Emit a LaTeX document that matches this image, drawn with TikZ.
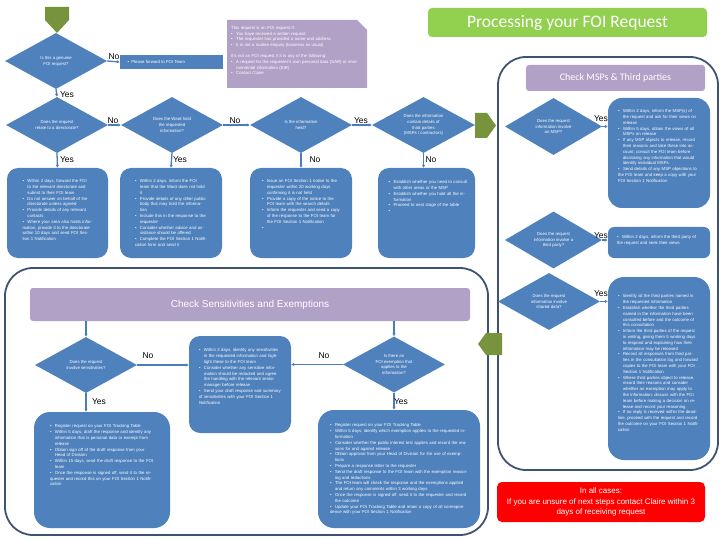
\documentclass[tikz,border=0pt]{standalone}
\usepackage{fontspec}
\setmainfont{Liberation Sans}
\newfontfamily\calibfont{Carlito}
\usetikzlibrary{shapes.geometric,arrows.meta}
\definecolor{boxblue}{HTML}{4F81BD}
\definecolor{linkblue}{HTML}{4A7EBB}
\definecolor{lav}{HTML}{B2A1C7}
\definecolor{olivegreen}{HTML}{77933C}
\definecolor{limegreen}{HTML}{92D050}
\definecolor{framecol}{HTML}{3E5372}
\newcommand\bpt{\par\noindent\hangindent=5pt\hangafter=1\makebox[5pt][l]{\textbullet}}
\newcommand\boxfont{\fontsize{4.3}{5.8}\selectfont}
\tikzset{
  dec/.style={diamond, shape aspect=1.8, fill=boxblue, draw=none, minimum width=102pt, minimum height=56pt, inner sep=0pt, text=white, font=\boxfont, align=center},
  bluebox/.style={fill=boxblue, rounded corners=11pt, draw=none, inner sep=0pt},
  btext/.style={text=white, font=\boxfont, align=left, anchor=north, inner sep=0pt},
  link/.style={draw=linkblue, line width=1.3pt, -{Latex[length=3pt,width=3.5pt]}},
  lab/.style={font=\fontsize{8.5}{10}\selectfont, text=black, inner sep=0pt},
  hdr/.style={fill=lav, rounded corners=3pt, text=white, inner sep=0pt},
  bigframe/.style={draw=framecol, line width=1.8pt, rounded corners=28pt},
  pent/.style={fill=olivegreen, draw=none},
}
\begin{document}
\begin{tikzpicture}[x=1pt,y=-1pt]
\useasboundingbox (0,0) rectangle (720,540);
% frames
\draw[bigframe] (498,57) rectangle (718,470);
\draw[bigframe] (5,268) rectangle (488,535);
% title
\node[hdr, rounded corners=4pt, fill=limegreen, minimum width=279pt, minimum height=29pt, font=\calibfont\fontsize{17.5}{19}\selectfont] (T) at (567.5,22.5) {Processing your FOI Request};
% note
\fill[lav] (227,20) -- (357,20) -- (367,30) -- (367,88) -- (227,88) -- cycle;
\node[btext, anchor=north west, text width=130pt] (N) at (231,26) {\noindent This request is an FOI request if:
\bpt You have received a written request
\bpt The requester has provided a name and address
\bpt It is not a routine enquiry (business as usual)
\par\vspace{5pt}\noindent It's not an FOI request if it is any of the following:
\bpt A request for the requester's own personal data (SAR) or environmental information (EIR)
\bpt Contact Claire};
% start pentagon
\fill[pent] (45,7) -- (69,7) -- (69,20) -- (57,33) -- (45,20) -- cycle;
% first row
\node[dec] (d1) at (56,61) {Is this a genuine\\FOI request?};
\node[fill=boxblue, minimum width=103pt, minimum height=14pt, inner sep=0pt] (F0) at (171.5,62) {};
\node[text=white, font=\boxfont, anchor=west] (F0t) at (124,62) {\textbullet\ \ Please forward to FOI Team};
\node[dec] (d2) at (57,125) {Does the request\\relate to a directorate?};
\node[dec] (d3) at (172,125) {Does the Ward hold\\the requested\\information?};
\node[dec] (d4) at (301,125) {Is the information\\held?};
\node[dec, minimum width=103pt] (d5) at (423.5,125) {Does the information\\contain details of\\third parties\\(MSPs / contractors)};
\fill[pent] (475,113) -- (487,113) -- (496,125.5) -- (487,138) -- (475,138) -- cycle;
% second row boxes
\node[bluebox, minimum width=101pt, minimum height=90pt] (A) at (57.5,213) {};
\node[btext, text width=70pt] (At) at ([yshift=-9pt]A.north) {\bpt Within 2 days, forward the FOI to the relevant directorate and submit to their FOI team
\bpt Do not answer on behalf of the directorate unless agreed
\bpt Provide details of any relevant contacts
\bpt Where your area also holds information, provide it to the directorate within 10 days and send FOI Section 1 Notification};
\node[bluebox, minimum width=102pt, minimum height=90pt] (B) at (171,213) {};
\node[btext, text width=72pt] (Bt) at ([yshift=-9pt]B.north) {\bpt Within 2 days, inform the FOI team that the Ward does not hold it
\bpt Provide details of any other public body that may hold the information
\bpt Include this in the response to the requester
\bpt Consider whether advice and assistance should be offered
\bpt Complete the FOI Section 1 Notification form and send it};
\node[bluebox, minimum width=102pt, minimum height=90pt] (C) at (301,213) {};
\node[btext, text width=78pt] (Ct) at ([yshift=-9pt]C.north) {\bpt Issue an FOI Section 1 notice to the requester within 20 working days confirming it is not held
\bpt Provide a copy of the notice to the FOI team with the search details
\bpt Inform the requester and send a copy of the response to the FOI team for the FOI Section 1 Notification
\bpt};
\node[bluebox, minimum width=97pt, minimum height=90pt] (D) at (426.5,213) {};
\node[btext, text width=80pt] (Dt) at ([xshift=2pt,yshift=-10pt]D.north) {\bpt Establish whether you need to consult with other areas or the MSP
\bpt Establish whether you hold all the information
\bpt Proceed to next stage of the table
\bpt};
% MSP column
\node[hdr, minimum width=179pt, minimum height=26pt, font=\calibfont\fontsize{10}{12}\selectfont] (M) at (615.5,78) {Check MSPs \& Third parties};
\node[dec, minimum width=97pt, minimum height=57pt] (d6) at (553.5,126.5) {Does the request\\information involve\\an MSP?};
\node[dec, minimum width=97pt, minimum height=57pt] (d7) at (553.5,240) {Does the request\\information involve a\\third party?};
\node[dec, minimum width=102pt, minimum height=57pt] (d8) at (549,301.5) {Does the request\\information involve\\shared data?};
\node[bluebox, minimum width=102pt, minimum height=110pt, rounded corners=14pt] (E) at (659,153) {};
\node[btext, text width=82pt] (Et) at ([yshift=-9pt]E.north) {\bpt Within 2 days, inform the MSP(s) of the request and ask for their views on release
\bpt Within 5 days, obtain the views of all MSPs on release
\bpt If any MSP objects to release, record their reasons and take these into account; consult the FOI team before disclosing any information that would identify individual MSPs
\bpt Send details of any MSP objections to the FOI team and keep a copy with your FOI Section 1 Notification};
\node[bluebox, minimum width=102pt, minimum height=31pt, rounded corners=6pt] (F) at (659,242.5) {};
\node[btext, text width=84pt] (Ft) at ([yshift=-6pt]F.north) {\bpt Within 2 days, inform the third party of the request and seek their views};
\node[bluebox, minimum width=102pt, minimum height=183pt, rounded corners=16pt] (G) at (659,368.5) {};
\node[btext, text width=82pt] (Gt) at ([yshift=-15pt]G.north) {\bpt Identify all the third parties named in the requested information
\bpt Establish whether the third parties named in the information have been consulted before and the outcome of this consultation
\bpt Inform the third parties of the request in writing, giving them 5 working days to respond and explaining how their information may be released
\bpt Record all responses from third parties in the consultation log and forward copies to the FOI team with your FOI Section 1 Notification
\bpt Where third parties object to release, record their reasons and consider whether an exemption may apply to the information; discuss with the FOI team before making a decision on release and record your reasoning
\bpt If no reply is received within the deadline, proceed with the request and record the outcome on your FOI Section 1 Notification};
% sensitivities
\node[hdr, minimum width=440pt, minimum height=33pt, font=\fontsize{10}{12}\selectfont] (S) at (250,304.5) {Check Sensitivities and Exemptions};
\fill[pent] (478,344) -- (486,333) -- (502,333) -- (502,355) -- (486,355) -- cycle;
\node[dec] (d9) at (86,365) {Does the request\\involve sensitivities?};
\node[dec] (d10) at (394,364.5) {Is there an\\FOI exemption that\\applies to the\\information?};
\node[bluebox, minimum width=102pt, minimum height=97pt] (H) at (240,384.5) {};
\node[btext, text width=82pt] (Ht) at ([yshift=-10pt]H.north) {\bpt Within 2 days, identify any sensitivities in the requested information and highlight these to the FOI team
\bpt Consider whether any sensitive information should be redacted and agree the handling with the relevant senior manager before release
\bpt Send your draft response and summary of sensitivities with your FOI Section 1 Notification};
\node[bluebox, minimum width=136pt, minimum height=116pt, rounded corners=16pt] (I) at (102,470) {};
\node[btext, text width=104pt] (It) at ([yshift=-10pt]I.north) {\bpt Register request on your FOI Tracking Table
\bpt Within 5 days, draft the response and identify any information that is personal data or exempt from release
\bpt Obtain sign off of the draft response from your Head of Division
\bpt Within 15 days, send the draft response to the FOI team
\bpt Once the response is signed off, send it to the requester and record this on your FOI Section 1 Notification};
\node[bluebox, minimum width=162pt, minimum height=118pt, rounded corners=16pt] (J) at (399,469) {};
\node[btext, text width=138pt] (Jt) at ([yshift=-11pt]J.north) {\bpt Register request on your FOI Tracking Table
\bpt Within 5 days, identify which exemption applies to the requested information
\bpt Consider whether the public interest test applies and record the reasons for and against release
\bpt Obtain approval from your Head of Division for the use of exemptions
\bpt Prepare a response letter to the requester
\bpt Send the draft response to the FOI team with the exemption reasoning and redactions
\bpt The FOI team will check the response and the exemptions applied and return any comments within 3 working days
\bpt Once the response is signed off, send it to the requester and record the outcome
\bpt Update your FOI Tracking Table and retain a copy of all correspondence with your FOI Section 1 Notification};
% red box
\node[fill=red, rounded corners=5pt, minimum width=208pt, minimum height=40pt, text=white, align=center, inner sep=0pt, font=\fontsize{8}{10.5}\selectfont] (R) at (601,502) {In all cases:\\If you are unsure of next steps contact Claire within 3\\days of receiving request};
% connectors
\draw[link] (d1.east) -- (F0.west);
\draw[link] (d1.south) -- (d2.north);
\draw[link] (d2.east) -- (d3.west);
\draw[link] (d3.east) -- (d4.west);
\draw[link] (d4.east) -- (d5.west);
\draw[link] (d2.south) -- (A.north);
\draw[link] (d3.south) -- (B.north);
\draw[link] (d4.south) -- (C.north);
\draw[link] (d5.south) -- (d5.south |- D.north);
\draw[link] (d6.east) -- (d6.east -| E.west);
\draw[link] (d7.east) -- (d7.east -| F.west);
\draw[link] (d8.east) -- (d8.east -| G.west);
\draw[link] (d9.north |- S.south) -- (d9.north);
\draw[link] (d10.north |- S.south) -- (d10.north);
\draw[link] (d9.east) -- (d9.east -| H.west);
\draw[link] (d10.west) -- (d10.west -| H.east);
\draw[link] (d9.south) -- (d9.south |- I.north);
\draw[link] (d10.south) -- (d10.south |- J.north);
% labels
\node[lab] (l1) at (114,57) {No};
\node[lab] (l2) at (67,95) {Yes};
\node[lab] (l3) at (113,121) {No};
\node[lab] (l4) at (235,121) {No};
\node[lab] (l5) at (361,121) {Yes};
\node[lab] (l6) at (67,160) {Yes};
\node[lab] (l7) at (180,160) {Yes};
\node[lab] (l8) at (315,160) {No};
\node[lab] (l9) at (431,160) {No};
\node[lab] (l10) at (601,119) {Yes};
\node[lab] (l11) at (601,236) {Yes};
\node[lab] (l12) at (601,294) {Yes};
\node[lab] (l13) at (148,356) {No};
\node[lab] (l14) at (324,356) {No};
\node[lab] (l15) at (99,402) {Yes};
\node[lab] (l16) at (401,402) {Yes};
\end{tikzpicture}
\end{document}
